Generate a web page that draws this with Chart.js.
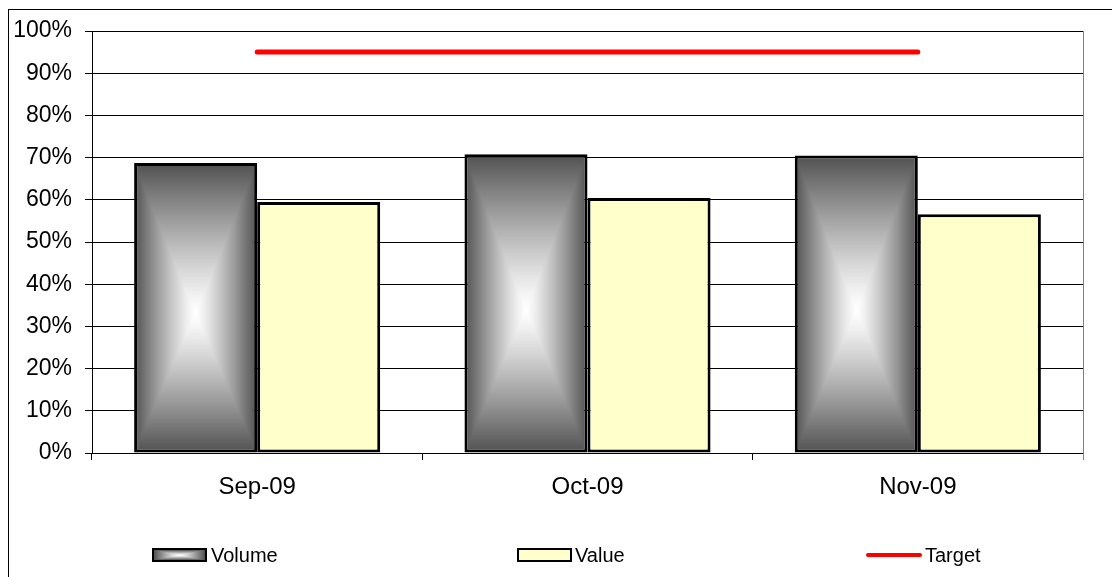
<!DOCTYPE html>
<html>
<head>
<meta charset="utf-8">
<script src="https://cdn.jsdelivr.net/npm/chart.js@4.4.1/dist/chart.umd.min.js"></script>
<style>
  html, body { margin: 0; padding: 0; background: #fff; }
  #wrap { position: relative; width: 1112px; height: 577px; overflow: hidden;
          font-family: "Liberation Sans", Arial, sans-serif; color: #000; }
  #frame { position: absolute; left: 8px; top: 9px; width: 2000px; height: 2000px;
           border-left: 1px solid #000; border-top: 1px solid #000; }
  #chart { position: absolute; left: 0; top: 0; }
  .leg { position: absolute; top: 545px; height: 20px; display: flex; align-items: center;
         font-size: 20px; line-height: 20px; white-space: nowrap; }
  .sw { box-sizing: border-box; width: 55px; height: 14px; border: 2px solid #000; margin-right: 4px; }
  .sw canvas { display: block; }
  .ln { width: 56px; height: 4px; background: #ff0000; border-radius: 2px; margin-right: 3px; }
</style>
</head>
<body>
<div id="wrap">
  <div id="frame"></div>
  <canvas id="chart" width="1112" height="577"></canvas>
  <div class="leg" style="left:152px"><div class="sw" id="swVolume"></div><span>Volume</span></div>
  <div class="leg" style="left:517px"><div class="sw" style="background:#ffffcc;margin-right:3px"></div><span>Value</span></div>
  <div class="leg" style="left:866px"><div class="ln"></div><span>Target</span></div>
</div>
<script>
// Monthly share achieved (percent)
const categories = ['Sep-09', 'Oct-09', 'Nov-09'];
const volume = [68.7, 70.8, 70.5];
const value = [59.5, 60.4, 56.6];
const target = [95, 95, 95];
const yTickValues = [0, 10, 20, 30, 40, 50, 60, 70, 80, 90, 100];

const FONT = '"Liberation Sans", Arial, sans-serif';
const CAT_PCT = 0.745;
const EDGE_GREY = 80;

// Grey fill that brightens towards the centre of a w x h box (rectangular glow)
function centerGlowCanvas(w, h) {
  const c = document.createElement('canvas');
  c.width = w; c.height = h;
  const g = c.getContext('2d');
  const img = g.createImageData(w, h);
  const hw = w / 2, cy = h * 0.52;
  for (let y = 0; y < h; y++) {
    for (let x = 0; x < w; x++) {
      const dy = y + 0.5 - cy;
      const ty = Math.abs(dy) / (dy < 0 ? cy : h - cy);
      const t = Math.min(1, Math.max(Math.abs(x + 0.5 - hw) / hw, ty));
      const v = Math.round(255 - (255 - EDGE_GREY) * Math.pow(t, 1.2));
      const k = (y * w + x) * 4;
      img.data[k] = img.data[k + 1] = img.data[k + 2] = v;
      img.data[k + 3] = 255;
    }
  }
  g.putImageData(img, 0, 0);
  return c;
}

// Volume bars: a glow pattern sized to each bar from the chart's own scales
function volumeFill(ctx) {
  const chart = ctx.chart;
  const xs = chart.scales.x, ys = chart.scales.y;
  if (ctx.type !== 'data' || !xs || !ys || !(xs.width > 0) || !(ys.height > 0)) return '#888';
  const slot = xs.width / categories.length * CAT_PCT / 2;
  const left = xs.getPixelForValue(ctx.dataIndex) - slot;
  const top = ys.getPixelForValue(ctx.raw);
  const bottom = ys.getPixelForValue(0);
  const w = Math.max(2, Math.round(slot));
  const h = Math.max(2, Math.round(bottom - top));
  const pat = chart.ctx.createPattern(centerGlowCanvas(w, h), 'no-repeat');
  pat.setTransform(new DOMMatrix().translate(left, top));
  return pat;
}

document.getElementById('swVolume').appendChild(centerGlowCanvas(51, 10));

// Right-hand edge of the plot area
const plotEdge = {
  id: 'plotEdge',
  beforeDatasetsDraw(chart) {
    const { ctx, chartArea: a } = chart;
    const x = Math.round(a.right) + 0.5;
    ctx.save();
    ctx.strokeStyle = '#808080';
    ctx.lineWidth = 1;
    ctx.beginPath();
    ctx.moveTo(x, a.top);
    ctx.lineTo(x, a.bottom + 7);
    ctx.stroke();
    ctx.restore();
  }
};

new Chart(document.getElementById('chart'), {
  type: 'bar',
  data: {
    labels: categories,
    datasets: [
      {
        label: 'Volume', data: volume, order: 2,
        backgroundColor: volumeFill, borderColor: '#000', borderWidth: 3, borderSkipped: false,
        categoryPercentage: CAT_PCT, barPercentage: 1.0
      },
      {
        label: 'Value', data: value, order: 2,
        backgroundColor: '#ffffcc', borderColor: '#000', borderWidth: 3, borderSkipped: false,
        categoryPercentage: CAT_PCT, barPercentage: 1.0
      },
      {
        type: 'line', label: 'Target', data: target, order: 0,
        borderColor: '#ff0000', borderWidth: 5, borderCapStyle: 'round',
        pointRadius: 0, pointHoverRadius: 0, fill: false, tension: 0
      }
    ]
  },
  options: {
    responsive: false,
    animation: false,
    layout: { padding: { left: 0, right: 29, top: 31, bottom: 54 } },
    plugins: { legend: { display: false }, tooltip: { enabled: false } },
    scales: {
      x: {
        offset: true,
        grid: { display: true, drawOnChartArea: false, drawTicks: true, tickLength: 7, color: '#000', offset: true },
        border: { display: true, color: '#000', width: 1 },
        ticks: { color: '#000', font: { family: FONT, size: 24 }, padding: 13, maxRotation: 0 },
        afterFit(s) { s.height = 70; }
      },
      y: {
        min: 0, max: 100,
        afterBuildTicks(s) { s.ticks = yTickValues.map(v => ({ value: v })); },
        grid: { color: '#000', tickLength: 7, drawTicks: true },
        border: { display: true, color: '#000', width: 1 },
        ticks: { color: '#000', font: { family: FONT, size: 23 }, padding: 13, callback: v => v + '%' },
        afterFit(s) { s.width = 92; }
      }
    }
  },
  plugins: [plotEdge]
});
</script>
</body>
</html>
